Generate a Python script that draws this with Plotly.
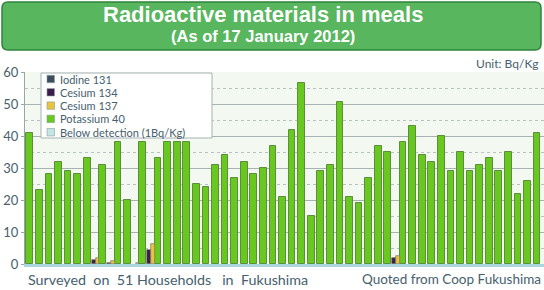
import plotly.graph_objects as go

# ---------------- data ----------------
households = list(range(1, 52))
potassium_40 = [41, 23, 28, 32, 29, 28, 33, 31, 38, 20, 38, 33, 38, 38, 38, 25, 24,
                31, 34, 27, 32, 28, 30, 37, 21, 42, 56.5, 15, 29, 31, 50.5, 21, 19,
                27, 37, 35, 38, 43, 34, 32, 40, 29, 35, 29, 31, 33, 29, 35, 22, 26, 41]
# values keyed by household number (only households where something showed)
iodine_131 = {}
cesium_134 = {8: 1.4, 9: 0.3, 12: 4.5, 37: 1.9}
cesium_137 = {8: 2.0, 9: 0.9, 12: 6.4, 37: 2.6}
below_detection = {11: 0.4}

series_names = ["Iodine 131", "Cesium 134", "Cesium 137", "Potassium 40",
                "Below detection (1Bq/Kg)"]
y_ticks = [0, 10, 20, 30, 40, 50, 60]

title_line1 = "Radioactive materials in meals"
title_line2 = "(As of 17 January 2012)"
unit_text = "Unit: Bq/Kg"
NB = "\u00a0"
footer_left = ("Surveyed" + NB * 2 + "on" + NB * 2 + "51" + NB + "Households"
               + NB * 3 + "in" + NB * 2 + "Fukushima")
footer_right = "Quoted" + NB + "from" + NB + "Coop Fukushima"

# ---------------- style ----------------
COL_I = "#3e4d5c"
COL_CS134 = "#3b1d4c"
COL_CS137 = "#e6c440"
COL_K = "#69c81f"
COL_BD = "#c4e6e4"
TXT = "#46606e"
FONT = "Lato"

W, H = 544, 290
ML, MR, MT, MB = 25, 0, 72, 26
PW, PH = W - ML - MR, H - MT - MB


def px_x(px):
    return (px - ML) / PW


def px_y(py):
    return (H - MB - py) / PH


# household positions: households with extra small bars take a wider group
GROUP_EXTRA = 0.6
pos = []
p = -1.0
for h in households:
    has_small = any(h in d for d in (iodine_131, cesium_134, cesium_137, below_detection))
    p += 1 + (GROUP_EXTRA if has_small else 0)
    pos.append(p)

K_W = 0.7
S_W = 0.38

fig = go.Figure()


def small_trace(d, name, color, offset):
    hs = sorted(d)
    fig.add_trace(go.Bar(
        x=[pos[h - 1] for h in hs], y=[d[h] for h in hs], name=name,
        width=S_W, offset=offset,
        marker=dict(color=color, line=dict(color="#6d6a60", width=0.6)),
        showlegend=False))


fig.add_trace(go.Bar(
    x=pos, y=potassium_40, name=series_names[3], width=K_W, offset=-K_W / 2,
    marker=dict(color=COL_K, line=dict(color="#5c8f3c", width=1)),
    showlegend=False))
small_trace(iodine_131, series_names[0], COL_I, -K_W / 2 - 2 * S_W)
small_trace(cesium_134, series_names[1], COL_CS134, -K_W / 2 - 2 * S_W)
small_trace(cesium_137, series_names[2], COL_CS137, -K_W / 2 - S_W)
small_trace(below_detection, series_names[4], COL_BD, -K_W / 2 - S_W)

fig.update_layout(
    width=W, height=H,
    margin=dict(l=ML, r=MR, t=MT, b=MB, pad=0),
    paper_bgcolor="white", plot_bgcolor="#f3f8f1",
    barmode="overlay", bargap=0,
    font=dict(family=FONT, color=TXT),
    xaxis=dict(range=[-0.5, pos[-1] + 0.72], showgrid=False, zeroline=False,
               showticklabels=False, ticks="", showline=True,
               linecolor="#a9d6df", linewidth=3),
    yaxis=dict(range=[0, 60], tickvals=y_ticks, showgrid=True, gridcolor="#a7b3b3",
               gridwidth=1, zeroline=False, showline=True, linecolor="#9aa7a7",
               linewidth=1, ticks="outside", ticklen=3, tickcolor="#9aa7a7",
               tickfont=dict(family=FONT, size=13, color=TXT),
               minor=dict(dtick=5, showgrid=True, gridcolor="#b9c2c2",
                          griddash="dot", gridwidth=1, ticks="")),
)

shapes = []
annotations = []

# ---- title banner (rounded rectangle) ----
bx0, by0, bx1, by1, r = 2, 2, 541, 50, 6
path = (f"M {px_x(bx0 + r)},{px_y(by0)} L {px_x(bx1 - r)},{px_y(by0)} "
        f"Q {px_x(bx1)},{px_y(by0)} {px_x(bx1)},{px_y(by0 + r)} "
        f"L {px_x(bx1)},{px_y(by1 - r)} Q {px_x(bx1)},{px_y(by1)} {px_x(bx1 - r)},{px_y(by1)} "
        f"L {px_x(bx0 + r)},{px_y(by1)} Q {px_x(bx0)},{px_y(by1)} {px_x(bx0)},{px_y(by1 - r)} "
        f"L {px_x(bx0)},{px_y(by0 + r)} Q {px_x(bx0)},{px_y(by0)} {px_x(bx0 + r)},{px_y(by0)} Z")
shapes.append(dict(type="path", xref="paper", yref="paper", path=path,
                   fillcolor="#57b65e", line=dict(color="#2f843a", width=1.5),
                   layer="above"))
annotations.append(dict(text=f"<b>{title_line1}</b>", xref="paper", yref="paper",
                        x=px_x(263), y=px_y(14.8), xanchor="center", yanchor="middle",
                        showarrow=False, borderpad=0,
                        font=dict(family="Liberation Sans", size=22, color="white")))
annotations.append(dict(text=f"<b>{title_line2}</b>", xref="paper", yref="paper",
                        x=px_x(263), y=px_y(36.3), xanchor="center", yanchor="middle",
                        showarrow=False, borderpad=0,
                        font=dict(family="Liberation Sans", size=16.5, color="white")))

# ---- unit ----
annotations.append(dict(text=unit_text, xref="paper", yref="paper", x=px_x(541),
                        y=px_y(63), xanchor="right", yanchor="middle", showarrow=False,
                        font=dict(family=FONT, size=12, color=TXT)))

# ---- footers ----
annotations.append(dict(text=footer_left, xref="paper", yref="paper", x=px_x(26),
                        y=px_y(279), xanchor="left", yanchor="middle", showarrow=False,
                        font=dict(family=FONT, size=14.3, color=TXT)))
annotations.append(dict(text=footer_right, xref="paper", yref="paper", x=px_x(543),
                        y=px_y(279), xanchor="right", yanchor="middle", showarrow=False,
                        font=dict(family=FONT, size=13.5, color=TXT)))

# ---- legend (drawn manually for compact rows) ----
shapes.append(dict(type="rect", xref="paper", yref="paper",
                   x0=px_x(41), x1=px_x(212), y0=px_y(138), y1=px_y(73),
                   fillcolor="white", line=dict(color="#a6b2b2", width=1), layer="above"))
leg_colors = [COL_I, COL_CS134, COL_CS137, COL_K, COL_BD]
for i, (name, col) in enumerate(zip(series_names, leg_colors)):
    cy = 79 + i * 13.3
    shapes.append(dict(type="rect", xref="paper", yref="paper",
                       x0=px_x(47), x1=px_x(54.5), y0=px_y(cy + 3.7), y1=px_y(cy - 3.7),
                       fillcolor=col, line=dict(color="#8a9a9a", width=0.6), layer="above"))
    annotations.append(dict(text=name, xref="paper", yref="paper", x=px_x(59),
                            y=px_y(cy), xanchor="left", yanchor="middle", showarrow=False,
                            borderpad=0,
                            font=dict(family=FONT, size=11, color=TXT)))

fig.update_layout(shapes=shapes, annotations=annotations)
fig.write_html("out.html", config={"displayModeBar": False},
               post_script="document.body.style.margin='0';document.body.style.overflow='hidden';")
